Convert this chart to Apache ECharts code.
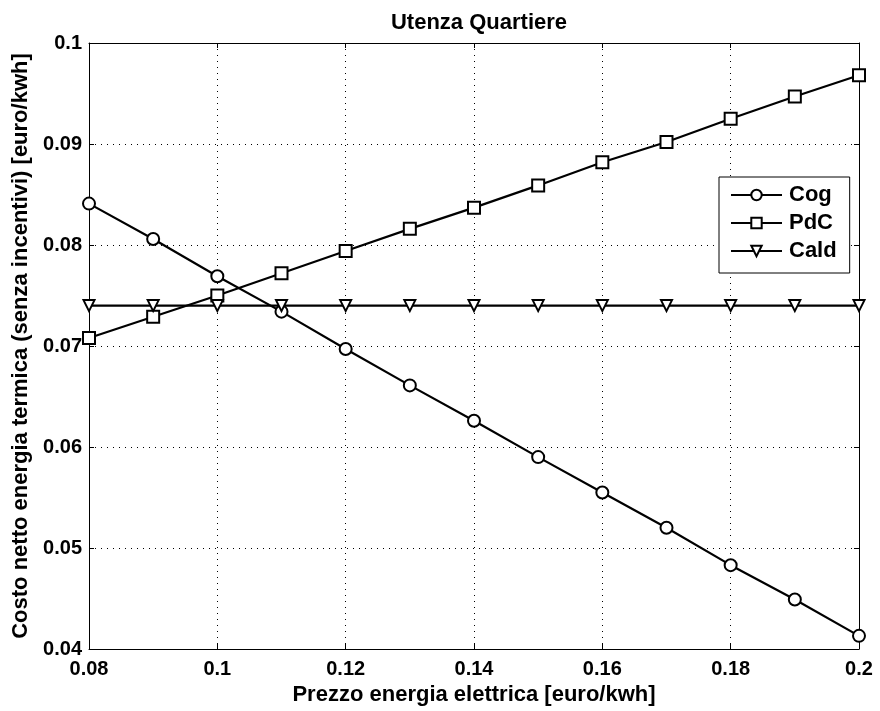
<!DOCTYPE html>
<html><head><meta charset="utf-8">
<script src="https://cdn.jsdelivr.net/npm/echarts@6/dist/echarts.min.js"></script>
<style>html,body{margin:0;padding:0;background:#fff}#c{width:880px;height:711px}</style>
</head><body><div id="c"></div>
<script>
const prezzo = [0.08,0.09,0.10,0.11,0.12,0.13,0.14,0.15,0.16,0.17,0.18,0.19,0.20];
const cog  = [0.0841,0.0806,0.0769,0.0734,0.0697,0.0661,0.0626,0.0590,0.0555,0.0520,0.0483,0.0449,0.0413];
const pdc  = [0.0708,0.0729,0.0750,0.0772,0.0794,0.0816,0.0837,0.0859,0.0882,0.0902,0.0925,0.0947,0.0968];
const cald = [0.0740,0.0740,0.0740,0.0740,0.0740,0.0740,0.0740,0.0740,0.0740,0.0740,0.0740,0.0740,0.0740];
const seriesNames = ['Cog','PdC','Cald'];
const titleText = 'Utenza Quartiere';
const xName = 'Prezzo energia elettrica [euro/kwh]';
const yName = 'Costo netto energia termica (senza incentivi) [euro/kwh]';

const FONT = '"Liberation Sans", Arial, sans-serif';
const pair = arr => prezzo.map((x,i)=>[x,arr[i]]);
const chart = echarts.init(document.getElementById('c'), null, {renderer:'canvas'});
const baseSeries = (name, data, symbol, size) => ({
  name, type:'line', data: pair(data), symbol, symbolSize:size,
  showAllSymbol:true, animation:false,
  lineStyle:{color:'#000', width:2.2},
  itemStyle:{color:'#fff', borderColor:'#000', borderWidth:2},
  emphasis:{disabled:true}
});
const axisCommon = {
  axisLine:{show:true,onZero:false,lineStyle:{color:'#000',width:1}},
  axisTick:{show:true,inside:true,length:5,lineStyle:{color:'#000'}},
  splitLine:{show:false}
};
const labelStyle = {fontFamily:FONT,fontSize:20,fontWeight:'bold',color:'#000'};
const nameStyle = {fontFamily:FONT,fontSize:22,fontWeight:'bold',color:'#000'};
chart.setOption({
  backgroundColor:'#fff',
  animation:false,
  title:{text:titleText,left:474,textAlign:'center',top:7,textStyle:{fontFamily:FONT,fontSize:22,fontWeight:'bold',color:'#000'}},
  grid:{left:89,right:21,top:43,bottom:62,containLabel:false},
  legend:{
    data:seriesNames, orient:'vertical', left:719, top:177,
    backgroundColor:'#fff', borderColor:'#000', borderWidth:1, padding:[7,13,11,11],
    itemWidth:51, itemHeight:13, itemGap:6,
    textStyle:{fontFamily:FONT,fontSize:22,fontWeight:'bold',color:'#000',padding:[0,0,0,2]}
  },
  xAxis:[
    Object.assign({type:'value',min:0.08,max:0.2,interval:0.02,position:'bottom',
      name:xName,nameLocation:'middle',nameGap:30,
      nameTextStyle:nameStyle,
      axisLabel:Object.assign({margin:10,formatter:v=>String(+v.toFixed(4))},labelStyle)
    }, axisCommon, {splitLine:{show:true,lineStyle:{color:'#000',type:[1,5],width:1}}}),
    Object.assign({type:'value',min:0.08,max:0.2,interval:0.02,position:'top',axisLabel:{show:false}}, axisCommon)
  ],
  yAxis:[
    Object.assign({type:'value',min:0.04,max:0.1,interval:0.01,position:'left',
      name:yName,nameLocation:'middle',nameGap:55,
      nameTextStyle:nameStyle,
      axisLabel:Object.assign({margin:7,formatter:v=>String(+v.toFixed(4))},labelStyle)
    }, axisCommon, {splitLine:{show:true,lineStyle:{color:'#000',type:[1,5],width:1}}}),
    Object.assign({type:'value',min:0.04,max:0.1,interval:0.01,position:'right',axisLabel:{show:false}}, axisCommon)
  ],
  series:[
    baseSeries(seriesNames[0], cog, 'circle', 12),
    baseSeries(seriesNames[1], pdc, 'rect', 12),
    baseSeries(seriesNames[2], cald, 'path://M0,0 L10,0 L5,9 Z', 11)
  ]
});
</script></body></html>
